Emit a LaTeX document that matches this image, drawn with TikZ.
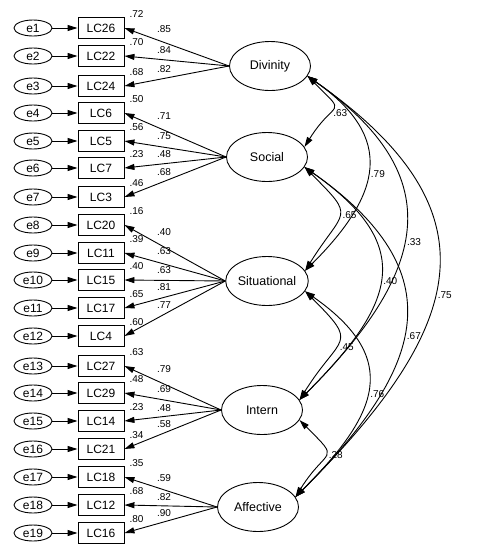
\documentclass[tikz,border=0pt]{standalone}
\usepackage{fontspec}
\setmainfont{Liberation Sans}
\usetikzlibrary{arrows.meta,shapes.geometric}

\tikzset{
  latent/.style={draw, ellipse, line width=0.9pt, minimum width=81pt, minimum height=49pt,
    inner sep=0pt, font=\fontsize{12.5}{14}\selectfont},
  errvar/.style={draw, ellipse, line width=0.9pt, minimum width=38pt, minimum height=16pt,
    inner sep=0pt, font=\fontsize{12}{14}\selectfont},
  obsvar/.style={draw, rectangle, line width=0.9pt, minimum width=46pt, minimum height=21pt,
    inner sep=0pt, font=\fontsize{12}{14}\selectfont},
  coef/.style={inner sep=1pt, font=\fontsize{10}{12}\selectfont},
  onearrow/.style={line width=0.9pt, -{Triangle[length=10pt,width=6pt]}},
  corr/.style={line width=0.9pt, {Triangle[length=10pt,width=6pt]}-{Triangle[length=10pt,width=6pt]}},
  near/.style={out=-45, in=58, out distance=#1, in distance=#1},
  far/.style={out=-35, in=45, out distance=#1, in distance=#1},
}

\begin{document}
\begin{tikzpicture}[x=1pt,y=-1pt]
      \useasboundingbox (0,0) rectangle (482,558);
      % latent factors
      \node[latent] (Divinity) at (270,66) {Divinity};
      \node[latent] (Social) at (267,157) {Social};
      \node[latent] (Situational) at (267,281) {Situational};
      \node[latent] (Intern) at (262,410) {Intern};
      \node[latent] (Affective) at (258,507) {Affective};
      % items, errors and loadings
      \foreach \i/\lc/\y/\rsq/\lat/\ld/\ly in {
          1/26/28/.72/Divinity/.85/29, 2/22/56/.70/Divinity/.84/50, 3/24/86/.68/Divinity/.82/69,
          4/6/113/.50/Social/.71/116, 5/5/141/.56/Social/.75/136, 6/7/168/.23/Social/.48/154,
          7/3/197/.46/Social/.68/172,
          8/20/225/.16/Situational/.40/232, 9/11/253/.39/Situational/.63/251,
          10/15/280/.40/Situational/.63/270, 11/17/308/.65/Situational/.81/287,
          12/4/336/.60/Situational/.77/305,
          13/27/366/.63/Intern/.79/369, 14/29/393/.48/Intern/.69/389,
          15/14/421/.23/Intern/.48/408, 16/21/449/.34/Intern/.58/424,
          17/18/477/.35/Affective/.59/478, 18/12/505/.68/Affective/.82/497,
          19/16/533/.80/Affective/.90/513} {
        \node[errvar] (e\i) at (33,\y) {e\i};
        \node[obsvar] (LC\lc) at (101,\y) {LC\lc};
        \draw[onearrow] (e\i) -- (LC\lc);
        \draw[onearrow] (\lat.west) -- (LC\lc.east);
        \node[coef, anchor=west] (r\i) at ([shift={(4pt,3pt)}]LC\lc.north east) {\rsq};
        \node[coef] (l\i) at (164,\ly) {\ld};
      }
      % correlations
      \draw[corr] (Divinity.-15) to[near=58pt]
        node[coef, pos=0.62, right=2pt] (c1) {.63} (Social.15);
      \draw[corr] (Divinity.-15) to[far=108pt]
        node[coef, pos=0.53, right=2pt] (c2) {.79} (Situational.15);
      \draw[corr] (Divinity.-15) to[far=178pt]
        node[coef, pos=0.54, right=2pt] (c3) {.33} (Intern.15);
      \draw[corr] (Divinity.-15) to[far=238pt]
        node[coef, pos=0.55, right=2pt] (c4) {.75} (Affective.15);
      \draw[corr] (Social.-15) to[near=74pt]
        node[coef, pos=0.5, right=2pt] (c5) {.65} (Situational.15);
      \draw[corr] (Social.-15) to[far=137pt]
        node[coef, pos=0.52, right=2pt] (c6) {.40} (Intern.15);
      \draw[corr] (Social.-15) to[far=184pt]
        node[coef, pos=0.54, right=2pt] (c7) {.67} (Affective.15);
      \draw[corr] (Situational.-15) to[near=78pt]
        node[coef, pos=0.57, right=2pt] (c8) {.45} (Intern.15);
      \draw[corr] (Situational.-15) to[far=118pt]
        node[coef, pos=0.53, right=2pt] (c9) {.76} (Affective.15);
      \draw[corr] (Intern.-15) to[near=60pt]
        node[coef, pos=0.5, right=2pt] (c10) {.28} (Affective.15);
\end{tikzpicture}
\end{document}
